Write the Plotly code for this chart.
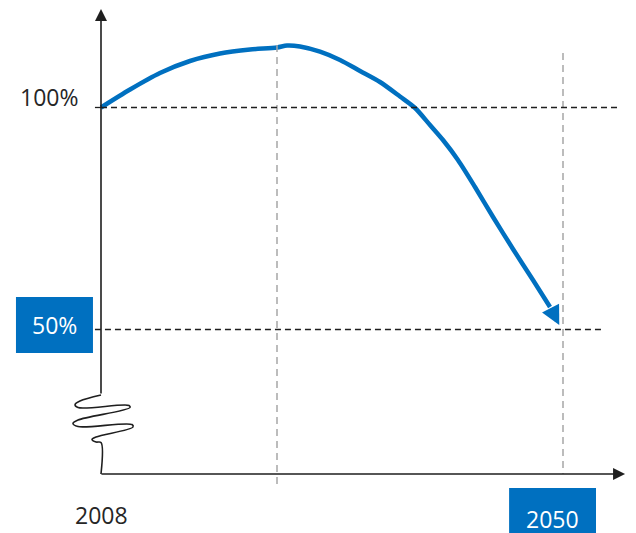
import plotly.graph_objects as go

# Trajectory of the indicator, expressed as % of the 2008 level
years = [2008.0, 2010.64, 2013.36, 2016.09, 2018.82, 2021.55, 2024.0, 2024.91,
         2026.09, 2027.91, 2029.73, 2031.55, 2033.36, 2035.18, 2036.55, 2037.91,
         2039.09, 2040.45, 2042.0, 2043.64, 2045.45, 2047.27, 2048.82]
share = [100.0, 104.05, 107.77, 110.47, 112.16, 113.06, 113.51, 113.96,
         113.74, 112.57, 110.70, 108.22, 105.74, 102.48, 99.89, 96.06,
         92.68, 88.18, 82.09, 75.34, 68.13, 61.15, 55.07]
end_year, end_share = 2049.66, 51.0

# Reference levels and milestone years
levels = [100, 50]
level_labels = ["100%", "50%"]
milestones = [2024, 2050]
start_year, target_year = 2008, 2050

# Axis-break squiggle on the vertical axis
break_x = [2008.0, 2006.09, 2005.64, 2005.91, 2010.55, 2010.64, 2005.91, 2005.45,
           2005.91, 2010.82, 2010.91, 2007.55, 2007.18, 2007.55, 2008.0, 2008.0]
break_y = [35.25, 33.90, 33.11, 32.43, 32.88, 32.43, 29.62, 28.83,
           28.15, 28.60, 28.04, 25.79, 25.23, 24.66, 24.55, 17.45]

BLUE = "#0070C0"
INK = "#1f1f1f"
GREY = "#a6a6a6"
FONT = "Open Sans"
FS = 23

x_axis_y = 17.45
x_axis_end = 2055.64
y_axis_top = 122.2

fig = go.Figure()

# Axis break squiggle and lower piece of the y axis
fig.add_trace(go.Scatter(x=break_x, y=break_y, mode="lines",
                         line=dict(color=INK, width=1.6, shape="spline", smoothing=1.0),
                         hoverinfo="skip", showlegend=False))

# Main curve
fig.add_trace(go.Scatter(x=years, y=share, mode="lines",
                         line=dict(color=BLUE, width=4.5, shape="spline", smoothing=0.8),
                         hoverinfo="skip", showlegend=False))

shapes = []
# Milestone verticals (grey dashed)
shapes.append(dict(type="line", xref="x", yref="y", x0=milestones[0], x1=milestones[0],
                   y0=114.1, y1=15.0, line=dict(color=GREY, width=1.5, dash="7px,5px")))
shapes.append(dict(type="line", xref="x", yref="y", x0=milestones[1], x1=milestones[1],
                   y0=112.3, y1=x_axis_y, line=dict(color=GREY, width=1.5, dash="7px,5px")))
# Reference levels (black dashed)
shapes.append(dict(type="line", xref="x", yref="y", x0=start_year, x1=2055.2,
                   y0=levels[0], y1=levels[0], line=dict(color=INK, width=1.3, dash="6px,4px")))
shapes.append(dict(type="line", xref="x", yref="y", x0=2007.45, x1=2053.8,
                   y0=levels[1], y1=levels[1], line=dict(color=INK, width=1.3, dash="6px,4px")))
# Tick at 100%
shapes.append(dict(type="line", xref="x", yref="y", x0=2007.45, x1=start_year,
                   y0=levels[0], y1=levels[0], line=dict(color=INK, width=1.3)))
# Label boxes
shapes.append(dict(type="rect", xref="x", yref="y", x0=2000.27, x1=2007.27,
                   y0=44.7, y1=57.3, fillcolor=BLUE, line=dict(width=0), layer="below"))
shapes.append(dict(type="rect", xref="x", yref="y", x0=2045.1, x1=2053.0,
                   y0=2.0, y1=14.3, fillcolor=BLUE, line=dict(width=0), layer="below"))

annotations = []
# Y axis with arrow (upper piece)
annotations.append(dict(x=start_year, y=y_axis_top, ax=start_year, ay=35.25,
                        xref="x", yref="y", axref="x", ayref="y", text="",
                        showarrow=True, arrowhead=2, arrowsize=1.5, arrowwidth=1.6,
                        arrowcolor=INK, standoff=0))
# X axis with arrow
annotations.append(dict(x=x_axis_end, y=x_axis_y, ax=2007.9, ay=x_axis_y,
                        xref="x", yref="y", axref="x", ayref="y", text="",
                        showarrow=True, arrowhead=2, arrowsize=1.5, arrowwidth=1.6,
                        arrowcolor=INK, standoff=0))
# Arrow head of the curve
annotations.append(dict(x=end_year, y=end_share, ax=years[-1], ay=share[-1],
                        xref="x", yref="y", axref="x", ayref="y", text="",
                        showarrow=True, arrowhead=2, arrowsize=0.85, arrowwidth=4.5,
                        arrowcolor=BLUE, standoff=0))
# Text labels
annotations.append(dict(x=2006.1, y=102.4, xref="x", yref="y", text=level_labels[0],
                        showarrow=False, xanchor="right", yanchor="middle",
                        font=dict(family=FONT, size=FS, color="#262626")))
annotations.append(dict(x=2003.8, y=51.0, xref="x", yref="y", text=level_labels[1],
                        showarrow=False, xanchor="center", yanchor="middle",
                        font=dict(family=FONT, size=FS, color="white")))
annotations.append(dict(x=start_year, y=8.2, xref="x", yref="y", text=str(start_year),
                        showarrow=False, xanchor="center", yanchor="middle",
                        font=dict(family=FONT, size=FS, color="#262626")))
annotations.append(dict(x=2049.0, y=7.3, xref="x", yref="y", text=str(target_year),
                        showarrow=False, xanchor="center", yanchor="middle",
                        font=dict(family=FONT, size=FS, color="white")))

fig.update_layout(
    width=636, height=533,
    margin=dict(l=0, r=0, t=0, b=0),
    paper_bgcolor="white", plot_bgcolor="white",
    xaxis=dict(range=[1998.818, 2056.636], visible=False, fixedrange=True),
    yaxis=dict(range=[4.167, 124.21], visible=False, fixedrange=True),
    shapes=shapes, annotations=annotations,
    showlegend=False,
)

fig.write_html("out.html")
